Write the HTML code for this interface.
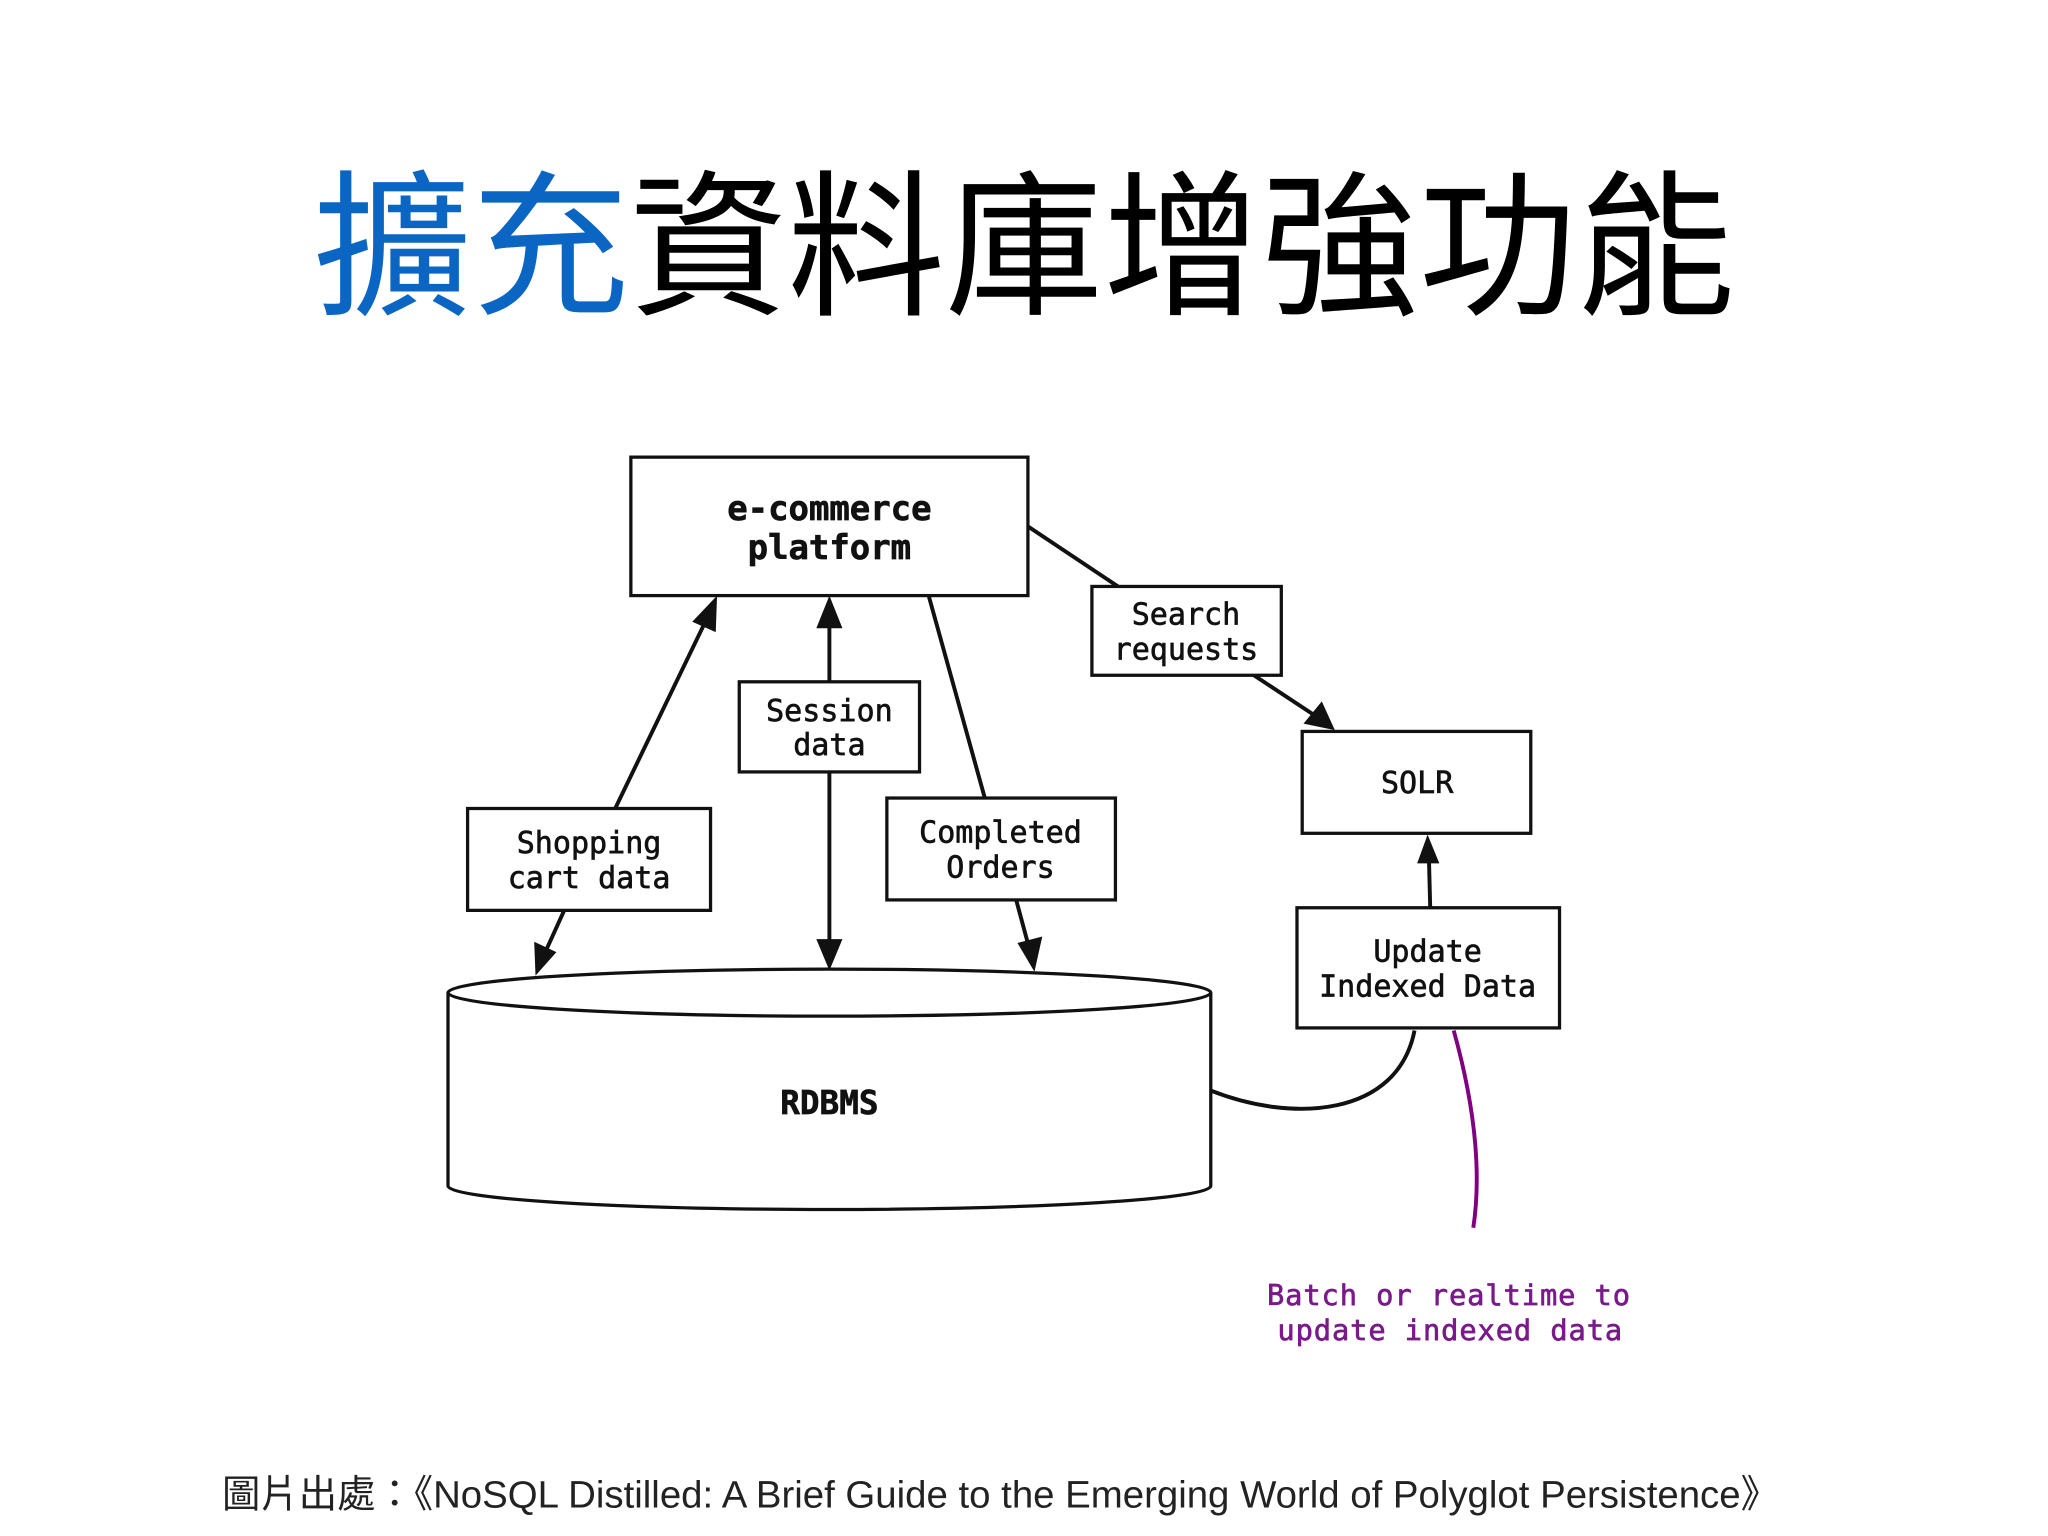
<!DOCTYPE html>
<html><head><meta charset="utf-8"><style>html,body{margin:0;padding:0;background:#fff;}svg{display:block}</style></head>
<body>
<svg width="2048" height="1536" viewBox="0 0 1568 1176" xmlns="http://www.w3.org/2000/svg">
<rect width="1568" height="1176" fill="#fff"/>
<text x="240" y="232" font-family="'Noto Sans CJK TC','WenQuanYi Zen Hei',sans-serif" font-size="121" textLength="1088" lengthAdjust="spacingAndGlyphs"><tspan fill="#0a66c2">擴充</tspan><tspan fill="#000">資料庫增強功能</tspan></text>

<g fill="none" stroke="#111" stroke-width="2.5">
<rect x="483" y="350" width="304" height="106"/>
<rect x="836" y="449" width="145" height="68"/>
<rect x="997" y="560" width="175" height="78"/>
<rect x="566" y="522" width="138" height="69"/>
<rect x="358" y="619" width="186" height="78"/>
<rect x="679" y="611" width="175" height="78"/>
<rect x="993" y="695" width="201" height="92"/>
<path d="M343,760 L343,908 A292,18 0 0 0 927,908 L927,760"/>
<ellipse cx="635" cy="760" rx="292" ry="18" fill="#fff"/>
<line x1="787" y1="403" x2="856" y2="449" stroke-width="3"/>
<line x1="960" y1="517" x2="1010" y2="550" stroke-width="3"/>
<line x1="471" y1="619" x2="541" y2="474" stroke-width="3"/>
<line x1="432" y1="697" x2="417" y2="730" stroke-width="3"/>
<line x1="635" y1="522" x2="635" y2="475" stroke-width="3"/>
<line x1="635" y1="591" x2="635" y2="724" stroke-width="3"/>
<line x1="711" y1="456" x2="754" y2="611" stroke-width="3"/>
<line x1="778" y1="689" x2="788" y2="726" stroke-width="3"/>
<line x1="1095" y1="695" x2="1094" y2="656" stroke-width="3"/>
<path d="M927,835 C990,860 1070,855 1083,789" stroke-width="3"/>
<path d="M1113,789 C1130,850 1134,900 1128,940" stroke="#800080" stroke-width="3"/>
</g>
<g fill="#111">
<polygon points="1022,559 998,554 1012,537"/>
<polygon points="549,456 548,484 530,476"/>
<polygon points="410,747 409,721 426,729"/>
<polygon points="635,456 645,481 625,481"/>
<polygon points="635,743 625,719 645,719"/>
<polygon points="792,744 779,722 798,717"/>
<polygon points="1093,639 1102,661 1085,661"/>
</g>
<g font-family="'DejaVu Sans Mono','Liberation Mono',monospace" text-anchor="middle" fill="#111" stroke="#111" stroke-width="0.5" font-size="23">
<text x="635" y="398" font-weight="bold" font-size="26">e-commerce</text>
<text x="635" y="428" font-weight="bold" font-size="26">platform</text>
<text x="908" y="478">Search</text>
<text x="908" y="505">requests</text>
<text x="1085" y="607">SOLR</text>
<text x="635" y="552">Session</text>
<text x="635" y="578">data</text>
<text x="451" y="653">Shopping</text>
<text x="451" y="680">cart data</text>
<text x="766" y="645">Completed</text>
<text x="766" y="672">Orders</text>
<text x="1093" y="736">Update</text>
<text x="1093" y="763">Indexed Data</text>
<text x="635" y="853" font-weight="bold" font-size="25">RDBMS</text>
<text x="1109" y="999" fill="#7a1a8a" stroke="#7a1a8a" font-size="22" textLength="278">Batch or realtime to</text>
<text x="1110" y="1026" fill="#7a1a8a" stroke="#7a1a8a" font-size="22" textLength="264">update indexed data</text>
</g>
<text x="170" y="1154" font-family="'Liberation Sans','Noto Sans CJK TC',sans-serif" font-size="29.4" fill="#222">圖片出處：《NoSQL Distilled: A Brief Guide to the Emerging World of Polyglot Persistence》</text>
</svg>
</body></html>
